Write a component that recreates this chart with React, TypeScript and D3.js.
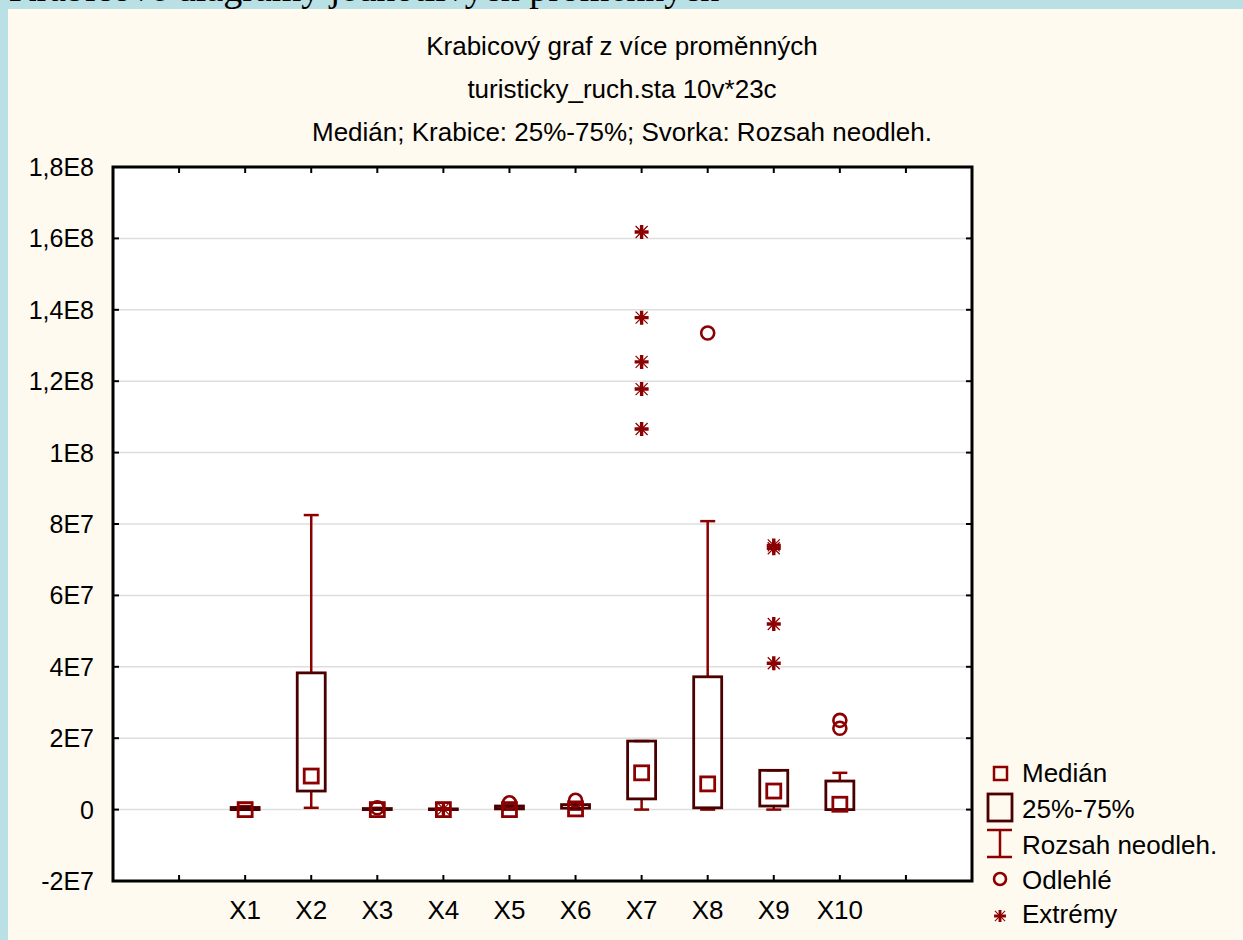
import React from 'react';
import * as d3 from 'd3';

// kategorie a hodnoty
const categories = ['X1', 'X2', 'X3', 'X4', 'X5', 'X6', 'X7', 'X8', 'X9', 'X10'];
const medians = [0, 0.94e7, 0, 0, 0, 0.02e7, 1.03e7, 0.72e7, 0.52e7, 0.15e7];
const q1 = [0, 0.52e7, 0, 0, 0.02e7, 0.04e7, 0.3e7, 0.05e7, 0.1e7, 0];
const q3 = [0.06e7, 3.83e7, 0.03e7, 0.02e7, 0.1e7, 0.14e7, 1.92e7, 3.72e7, 1.1e7, 0.8e7];
const whiskerLow = [0, 0.05e7, 0, 0, 0, 0, 0, 0, 0, 0];
const whiskerHigh = [0.1e7, 8.25e7, 0.05e7, 0.03e7, 0.12e7, 0.2e7, 1.92e7, 8.08e7, 1.1e7, 1.03e7];
const outliers: number[][] = [[], [], [0.05e7], [], [0.19e7], [0.26e7], [], [13.35e7], [], [2.5e7, 2.28e7]];
const extremes: number[][] = [[], [], [], [0.02e7], [], [], [16.18e7, 13.78e7, 12.54e7, 11.78e7, 10.66e7], [], [7.4e7, 7.32e7, 5.2e7, 4.1e7], []];
const yTicks = [-2e7, 0, 2e7, 4e7, 6e7, 8e7, 1e8, 1.2e8, 1.4e8, 1.6e8, 1.8e8];
const yTickLabels = ['-2E7', '0', '2E7', '4E7', '6E7', '8E7', '1E8', '1,2E8', '1,4E8', '1,6E8', '1,8E8'];
const titles = ['Krabicový graf z více proměnných', 'turisticky_ruch.sta 10v*23c', 'Medián; Krabice: 25%-75%; Svorka: Rozsah neodleh.'];
const legendLabels = ['Medián', '25%-75%', 'Rozsah neodleh.', 'Odlehlé', 'Extrémy'];

const W = 1243;
const H = 940;
const plot = { left: 113, right: 972, top: 167, bottom: 881 };
const font = 'Arial, "Liberation Sans", sans-serif';
const boxColor = '#4a0000';
const markColor = '#8b0000';

const asterisk = 'M-7,0H7M0,-7V7';
const asteriskDiag = 'M-6,-6L6,6M-6,6L6,-6';

const Extreme: React.FC<{ x: number; y: number; s?: number }> = ({ x, y, s = 1 }) => (
  <g transform={`translate(${x},${y}) scale(${s})`}>
    <path d={asteriskDiag} stroke={markColor} strokeWidth={1.2} />
    <path d={asterisk} stroke={markColor} strokeWidth={3.4} />
  </g>
);

const App: React.FC = () => {
  const y = d3.scaleLinear().domain([-2e7, 1.8e8]).range([plot.bottom, plot.top]);
  // 13 pozic: okraj, prázdná značka, X1..X10, prázdná značka, okraj
  const x = d3.scaleLinear().domain([0, 13]).range([plot.left, plot.right]);
  const xTickIdx = d3.range(1, 13);
  const boxW = 28;
  const capW = 15;
  const sq = 14;

  return (
    <svg width={W} height={H} style={{ position: 'absolute', left: 0, top: 0, display: 'block' }}>
      <rect x={0} y={0} width={W} height={H} fill="#b9e0e4" />
      <text x={9} y={0.5} fontFamily='"Liberation Serif", "Times New Roman", serif' fontSize={38} fill="#000">
        Krabicové diagramy jednotlivých proměnných
      </text>
      <rect x={8} y={9} width={W - 8} height={H - 9} fill="#fffaef" />

      {titles.map((t, i) => (
        <text key={t} x={622} y={46 + i * 43} dy="0.35em" textAnchor="middle" fontFamily={font} fontSize={26} fill="#000">{t}</text>
      ))}

      <rect x={plot.left} y={plot.top} width={plot.right - plot.left} height={plot.bottom - plot.top} fill="#fff" />

      {/* mřížka */}
      {yTicks.slice(1, -1).map(v => (
        <line key={v} x1={plot.left} x2={plot.right} y1={y(v)} y2={y(v)} stroke="#dedede" strokeWidth={1.5} />
      ))}

      {/* krabice */}
      {categories.map((c, i) => {
        const cx = x(i + 2);
        return (
          <g key={c}>
            <line x1={cx} x2={cx} y1={y(q3[i])} y2={y(whiskerHigh[i])} stroke={markColor} strokeWidth={2.5} />
            <line x1={cx} x2={cx} y1={y(q1[i])} y2={y(whiskerLow[i])} stroke={markColor} strokeWidth={2.5} />
            <line x1={cx - capW / 2} x2={cx + capW / 2} y1={y(whiskerHigh[i])} y2={y(whiskerHigh[i])} stroke={markColor} strokeWidth={2.5} />
            <line x1={cx - capW / 2} x2={cx + capW / 2} y1={y(whiskerLow[i])} y2={y(whiskerLow[i])} stroke={markColor} strokeWidth={2.5} />
            <rect x={cx - boxW / 2} y={y(q3[i])} width={boxW} height={Math.max(0.5, y(q1[i]) - y(q3[i]))}
              fill="none" stroke={boxColor} strokeWidth={2.8} />
            <rect x={cx - sq / 2} y={y(medians[i]) - sq / 2} width={sq} height={sq} fill="none" stroke={markColor} strokeWidth={2.8} />
            {outliers[i].map((v, k) => (
              <circle key={k} cx={cx} cy={y(v)} r={6.5} fill="none" stroke={markColor} strokeWidth={2.6} />
            ))}
            {extremes[i].map((v, k) => (
              <Extreme key={k} x={cx} y={y(v)} />
            ))}
          </g>
        );
      })}

      {/* osy */}
      {yTicks.map((v, i) => (
        <g key={v}>
          <line x1={plot.left} x2={plot.left + 6} y1={y(v)} y2={y(v)} stroke="#000" strokeWidth={2} />
          <line x1={plot.right - 6} x2={plot.right} y1={y(v)} y2={y(v)} stroke="#000" strokeWidth={2} />
          <text x={94} y={y(v)} dy="0.36em" textAnchor="end" fontFamily={font} fontSize={25} fill="#000">{yTickLabels[i]}</text>
        </g>
      ))}
      {xTickIdx.map(k => (
        <g key={k}>
          <line x1={x(k)} x2={x(k)} y1={plot.bottom} y2={plot.bottom - 6} stroke="#000" strokeWidth={2} />
          <line x1={x(k)} x2={x(k)} y1={plot.top} y2={plot.top + 6} stroke="#000" strokeWidth={2} />
        </g>
      ))}
      {categories.map((c, i) => (
        <text key={c} x={x(i + 2)} y={910} dy="0.36em" textAnchor="middle" fontFamily={font} fontSize={26} fill="#000">{c}</text>
      ))}
      <rect x={plot.left} y={plot.top} width={plot.right - plot.left} height={plot.bottom - plot.top} fill="none" stroke="#000" strokeWidth={3} />

      {/* legenda */}
      <g fontFamily={font} fontSize={26} fill="#000">
        <rect x={994} y={767} width={13} height={13} fill="none" stroke={markColor} strokeWidth={2.5} />
        <rect x={988} y={794} width={24} height={27} fill="none" stroke={boxColor} strokeWidth={2.8} />
        <path d="M987,830H1012M1000,830V857M987,857H1012" stroke={markColor} strokeWidth={2.5} fill="none" />
        <circle cx={1000} cy={879} r={6} fill="none" stroke={markColor} strokeWidth={2.6} />
        <Extreme x={1000} y={916} s={0.85} />
        {legendLabels.map((t, i) => (
          <text key={t} x={1022} y={[773, 809, 845, 880, 914][i]} dy="0.36em">{t}</text>
        ))}
      </g>
    </svg>
  );
};

export default App;
